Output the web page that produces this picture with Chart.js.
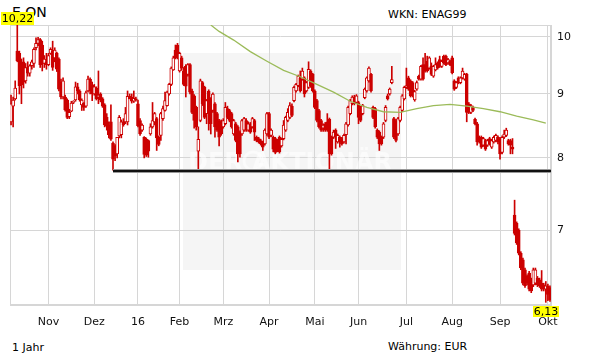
<!DOCTYPE html>
<html><head><meta charset="utf-8">
<script src="https://cdn.jsdelivr.net/npm/chart.js@4.4.0/dist/chart.umd.min.js"></script>
<style>
html,body{margin:0;padding:0;background:#fff;}
#wrap{position:relative;width:611px;height:364px;overflow:hidden;font-family:"DejaVu Sans",sans-serif;color:#000;}
#c{position:absolute;left:0;top:0;z-index:1;}
.t{position:absolute;white-space:nowrap;z-index:0;}
</style></head><body>
<div id="wrap">
<div class="t" style="left:12px;top:5px;font-size:14px;line-height:14px;">E.ON</div>
<div class="t" style="left:388px;top:9px;font-size:11px;line-height:11px;">WKN: ENAG99</div>
<div class="t" style="left:12px;top:342px;font-size:11px;line-height:11px;">1 Jahr</div>
<div class="t" style="left:388px;top:341px;font-size:11px;line-height:11px;">Währung: EUR</div>
<canvas id="c" width="611" height="364"></canvas>
</div>
<script>
// ---- data (one entry per trading day, index 0 = early Oct 2015) ----
const opens = [
8.55,8.80,8.92,9.74,9.70,9.50,9.55,9.22,9.45,9.35,
9.48,9.52,9.80,9.88,9.95,9.85,9.52,9.55,9.50,9.70,
9.75,9.62,9.70,9.60,9.20,8.95,8.95,8.90,8.63,8.72,
8.86,8.90,9.12,9.05,8.82,8.85,8.80,9.05,9.25,9.15,
9.00,9.10,8.95,9.00,8.92,8.82,8.62,8.50,8.55,8.22,
8.18,8.06,8.33,8.35,8.55,8.55,8.55,8.96,8.95,8.88,
8.92,8.84,8.57,8.42,8.31,8.28,8.26,8.36,8.47,8.55,
8.60,8.31,8.34,8.60,8.73,8.81,9.00,9.16,9.41,9.76,
9.85,9.39,9.62,9.39,9.47,9.33,9.50,9.05,8.97,8.78,
8.10,8.57,9.19,9.11,8.68,9.05,8.92,8.73,8.84,8.68,
8.57,8.55,8.47,8.52,8.76,8.73,8.68,8.36,8.52,8.47,
8.39,8.36,8.42,8.57,8.42,8.52,8.47,8.57,8.31,8.29,
8.26,8.23,8.21,8.36,8.68,8.34,8.31,8.29,8.26,8.31,
8.18,8.29,8.42,8.57,8.62,8.80,8.89,9.05,9.14,9.27,
9.25,9.27,9.05,9.11,9.39,9.33,9.05,8.89,8.73,8.57,
8.45,8.52,8.55,8.59,8.31,8.31,8.42,8.24,8.31,8.29,
8.24,8.35,8.50,8.68,8.84,8.95,8.86,8.86,8.78,8.68,
8.94,9.05,9.22,9.33,8.78,8.76,8.42,8.39,8.31,8.31,
8.57,8.97,9.00,9.19,8.60,8.57,8.36,8.57,8.73,8.92,
9.11,9.27,9.22,9.19,8.90,9.08,9.30,9.25,9.50,9.50,
9.56,9.44,9.47,9.30,9.41,9.53,9.59,9.47,9.65,9.65,
9.53,9.56,9.62,9.22,9.11,9.27,9.19,9.27,9.25,9.33,
8.84,8.70,8.78,8.59,8.52,8.31,8.31,8.19,8.26,8.19,
8.29,8.16,8.24,8.26,8.31,8.29,8.08,8.31,8.34,8.26,
8.26,8.16,7.20,7.09,7.00,6.71,6.63,6.51,6.43,6.47,
6.39,6.33,6.35,6.41,6.39,6.35,6.33,6.28,6.32,6.30];
const highs = [
8.98,8.95,9.22,10.22,9.74,9.60,9.62,9.52,9.55,9.50,
9.58,9.80,9.98,9.99,9.97,9.92,9.66,9.70,9.70,9.80,
9.92,9.80,9.72,9.62,9.25,9.27,8.98,8.92,8.75,8.88,
8.89,9.20,9.18,9.07,8.92,8.86,9.05,9.30,9.27,9.20,
9.16,9.12,9.39,9.02,8.94,8.84,8.68,8.55,8.82,8.24,
8.20,8.31,8.65,8.58,8.60,8.78,9.05,9.00,9.00,9.05,
8.95,8.90,8.60,8.52,8.32,8.30,8.27,8.52,8.86,8.70,
8.62,8.33,8.70,8.80,9.03,9.05,9.18,9.46,9.65,9.85,
9.88,9.72,9.65,9.45,9.50,9.52,9.52,9.08,8.99,8.80,
8.47,9.25,9.21,9.13,8.91,9.07,8.94,9.02,8.86,8.70,
8.59,8.58,8.60,8.86,8.80,8.75,8.70,8.59,8.54,8.49,
8.41,8.59,8.62,8.60,8.55,8.54,8.62,8.59,8.33,8.31,
8.28,8.25,8.44,8.70,8.70,8.44,8.33,8.31,8.28,8.33,
8.30,8.57,8.64,8.76,8.86,8.84,9.13,9.18,9.32,9.39,
9.44,9.29,9.21,9.55,9.41,9.35,9.07,8.91,8.75,8.59,
8.52,8.54,8.68,8.61,8.33,8.42,8.44,8.36,8.33,8.31,
8.36,8.54,8.80,8.91,8.97,8.98,8.99,8.88,8.80,8.83,
9.10,9.29,9.46,9.35,8.80,8.78,8.44,8.41,8.33,8.54,
8.81,9.00,9.10,9.47,8.62,8.59,8.62,8.80,8.99,9.13,
9.44,9.30,9.24,9.21,9.06,9.22,9.32,9.49,9.62,9.70,
9.65,9.64,9.53,9.49,9.62,9.55,9.65,9.58,9.67,9.67,
9.61,9.58,9.65,9.24,9.21,9.29,9.29,9.44,9.35,9.35,
8.86,8.83,8.80,8.61,8.54,8.33,8.33,8.31,8.28,8.28,
8.31,8.28,8.33,8.36,8.33,8.31,8.33,8.42,8.45,8.28,
8.28,8.29,7.40,7.11,7.02,6.73,6.65,6.53,6.45,6.49,
6.41,6.53,6.53,6.43,6.41,6.50,6.35,6.37,6.34,6.32];
const lows = [
8.50,8.47,8.90,9.55,9.00,8.84,9.10,9.18,9.30,9.30,
9.42,9.45,9.76,9.84,9.45,9.39,9.45,9.42,9.48,9.68,
9.40,9.55,9.38,9.05,8.92,8.92,8.72,8.60,8.60,8.71,
8.84,8.88,9.00,8.88,8.73,8.73,8.78,9.03,9.00,8.89,
8.98,8.90,8.84,8.87,8.78,8.47,8.42,8.30,8.26,7.82,
7.96,8.00,8.30,8.30,8.48,8.52,8.50,8.92,8.85,8.86,
8.88,8.47,8.34,8.40,8.00,8.02,8.01,8.34,8.45,8.50,
8.11,8.18,8.26,8.57,8.72,8.80,8.98,9.14,9.40,9.60,
9.60,9.37,9.40,9.14,8.95,9.30,9.00,8.68,8.45,8.42,
7.83,8.55,8.81,8.60,8.52,8.42,8.36,8.70,8.31,8.40,
8.18,8.34,8.45,8.50,8.60,8.55,8.45,8.34,8.24,7.94,
8.01,8.34,8.40,8.40,8.40,8.37,8.45,8.26,8.24,8.22,
8.19,8.11,8.19,8.34,8.29,8.32,8.09,8.06,8.09,8.07,
8.16,8.27,8.40,8.55,8.60,8.63,8.87,9.03,9.12,9.03,
9.23,8.95,9.03,9.09,9.11,9.03,8.76,8.55,8.45,8.40,
8.40,8.40,8.40,7.82,8.04,8.29,8.14,8.22,8.16,8.19,
8.22,8.21,8.48,8.66,8.82,8.82,8.84,8.52,8.55,8.66,
8.92,9.03,9.20,9.03,8.60,8.45,8.29,8.11,8.19,8.29,
8.55,8.90,8.98,9.17,8.29,8.24,8.34,8.55,8.71,8.90,
9.09,9.06,8.95,8.95,8.88,9.06,9.23,9.23,9.23,9.37,
9.37,9.42,9.31,9.28,9.39,9.42,9.45,9.45,9.51,9.48,
9.51,9.48,9.34,9.06,9.09,9.17,9.17,9.25,9.23,8.55,
8.68,8.68,8.71,8.50,8.19,8.22,8.14,8.17,8.11,8.17,
8.19,8.14,8.22,8.24,8.21,7.98,8.06,8.29,8.32,8.19,
8.06,8.06,6.94,6.82,6.69,6.51,6.33,6.30,6.33,6.26,
6.24,6.31,6.33,6.31,6.30,6.26,6.26,6.13,6.15,6.14];
const closes = [
8.84,8.90,9.10,9.57,9.14,9.15,9.20,9.45,9.35,9.48,
9.55,9.77,9.88,9.95,9.50,9.52,9.60,9.50,9.66,9.77,
9.45,9.76,9.42,9.08,8.95,9.22,8.74,8.62,8.70,8.85,
8.88,9.12,9.05,8.90,8.90,8.78,9.02,9.25,9.05,9.00,
9.12,8.92,8.98,8.90,8.80,8.50,8.48,8.35,8.28,7.98,
8.03,8.31,8.62,8.55,8.50,8.68,8.96,8.92,8.88,8.93,
8.90,8.49,8.36,8.50,8.05,8.04,8.10,8.47,8.57,8.68,
8.30,8.20,8.68,8.76,8.89,9.03,9.16,9.44,9.62,9.62,
9.62,9.70,9.44,9.16,9.13,9.50,9.03,8.70,8.57,8.47,
8.28,9.22,8.84,8.62,8.89,8.68,8.52,9.00,8.47,8.42,
8.31,8.36,8.57,8.78,8.62,8.57,8.47,8.57,8.26,8.06,
8.06,8.57,8.60,8.42,8.52,8.39,8.60,8.39,8.26,8.24,
8.21,8.16,8.42,8.68,8.31,8.42,8.13,8.08,8.11,8.09,
8.28,8.50,8.62,8.70,8.81,8.65,9.11,9.16,9.30,9.05,
9.39,9.00,9.19,9.42,9.13,9.05,8.78,8.57,8.47,8.42,
8.50,8.42,8.42,8.06,8.06,8.39,8.31,8.34,8.24,8.21,
8.34,8.52,8.78,8.89,8.95,8.84,8.97,8.62,8.57,8.81,
9.08,9.27,9.44,9.05,8.62,8.47,8.31,8.21,8.21,8.52,
8.78,8.92,9.08,9.24,8.31,8.26,8.60,8.78,8.97,9.11,
9.14,9.08,8.97,8.97,9.04,9.19,9.25,9.47,9.25,9.39,
9.39,9.62,9.33,9.47,9.50,9.44,9.47,9.56,9.53,9.50,
9.59,9.50,9.36,9.08,9.19,9.19,9.27,9.39,9.33,8.70,
8.70,8.81,8.73,8.52,8.24,8.24,8.16,8.29,8.13,8.26,
8.21,8.26,8.31,8.34,8.24,8.06,8.31,8.36,8.42,8.21,
8.19,8.13,6.96,6.84,6.71,6.53,6.35,6.32,6.35,6.28,
6.26,6.51,6.51,6.33,6.32,6.28,6.28,6.32,6.22,6.16];

// 200-day moving average, read at selected trading-day indices
const maIdx = [96,100,107,115,123,131,139,147,155,163,171,179,187,195,203,211,219,227,235,243,251,257];
const maVal = [10.22,10.10,9.94,9.73,9.56,9.40,9.29,9.16,9.03,8.88,8.78,8.71,8.70,8.76,8.81,8.83,8.80,8.76,8.71,8.64,8.58,8.53];

// support line
const supportLevel = 7.81;
const supportStartIdx = 49;

// axis ticks
const monthLabels = ['Nov','Dez','16','Feb','Mrz','Apr','Mai','Jun','Jul','Aug','Sep','Okt'];
const monthTickIdx = [18,40,61,81,102,124,146,167,190,212,235,258];
const yTicks = [7,8,9,10];

// ---- build ----
const N = closes.length;
const RED = '#cc0000';
const GRID = '#d6d6d6';
const idx = closes.map((_, i) => i);
const wickData = idx.map(i => ({x: i, y: [lows[i], highs[i]]}));
const bodyData = idx.map(i => ({x: i, y: [opens[i], closes[i]]}));
const bodyFill = idx.map(i => closes[i] >= opens[i] ? '#ffffff' : RED);
const maData = maIdx.map((v, k) => ({x: v, y: maVal[k]}));
const supportData = [{x: supportStartIdx, y: supportLevel}, {x: N - 0.5, y: supportLevel}];
const maxHigh = Math.max(...highs);
const minLow = Math.min(...lows);

const decor = {
  id: 'decor',
  beforeDraw(chart) {
    const {ctx, chartArea: a} = chart;
    ctx.save();
    ctx.fillStyle = '#f5f5f5';
    ctx.fillRect(a.left + 173, a.top + 28, 218, 217);
    ctx.restore();
  },
  beforeDatasetsDraw(chart) {
    const {ctx, chartArea: a} = chart;
    ctx.save();
    ctx.fillStyle = 'rgba(255,255,255,0.55)';
    ctx.font = 'bold 24px "DejaVu Sans"';
    ctx.textBaseline = 'alphabetic';
    ctx.textAlign = 'left';
    ctx.fillText('DER', a.left + 178, a.top + 145);
    ctx.textAlign = 'right';
    ctx.fillText('AKTIONÄR', a.left + 382, a.top + 145);
    ctx.strokeStyle = 'rgba(255,255,255,0.55)';
    ctx.lineWidth = 3;
    ctx.beginPath();
    ctx.arc(a.left + 243, a.top + 136, 9, 0, Math.PI * 2);
    ctx.stroke();
    ctx.strokeStyle = GRID;
    ctx.lineWidth = 1;
    ctx.strokeRect(a.left + 0.5, a.top + 0.5, a.right - a.left - 1, a.bottom - a.top - 1);
    ctx.restore();
  },
  afterDatasetsDraw(chart) {
    const {ctx, chartArea: a, scales: {x}} = chart;
    ctx.save();
    ctx.font = '11px "DejaVu Sans"';
    ctx.textBaseline = 'middle';
    ctx.textAlign = 'center';
    const draw = (val, i, yTop, h) => {
      const txt = val.toFixed(2).replace('.', ',');
      const w = Math.round(ctx.measureText(txt).width + 2);
      const cx = x.getPixelForValue(i);
      const left = Math.max(1, Math.round(cx - w / 2));
      ctx.fillStyle = '#ffff00';
      ctx.fillRect(left, yTop, w, h);
      ctx.fillStyle = '#000';
      ctx.fillText(txt, left + w / 2, yTop + h / 2 + 0.5);
    };
    draw(maxHigh, highs.indexOf(maxHigh), a.top - 13, 13);
    draw(minLow, lows.indexOf(minLow), a.bottom + 1, 11);
    ctx.restore();
  }
};

new Chart(document.getElementById('c'), {
  type: 'bar',
  data: {
    datasets: [
      {type: 'line', data: maData, borderColor: '#9bbb59', borderWidth: 1.3, pointRadius: 0, tension: 0, order: 1},
      {type: 'line', data: supportData, borderColor: '#999999', borderWidth: 4, pointRadius: 0, order: 3},
      {type: 'line', data: supportData, borderColor: '#111111', borderWidth: 2, pointRadius: 0, order: 2},
      {type: 'bar', data: bodyData, backgroundColor: bodyFill, borderColor: RED, borderWidth: 1,
       borderSkipped: false, barThickness: 3, grouped: false, order: 4},
      {type: 'bar', data: wickData, backgroundColor: RED, borderWidth: 0,
       barThickness: 1, grouped: false, order: 5}
    ]
  },
  options: {
    responsive: false,
    animation: false,
    events: [],
    layout: {padding: {left: 10, top: 25, right: 0, bottom: 0}},
    plugins: {legend: {display: false}, tooltip: {enabled: false}},
    scales: {
      x: {
        type: 'linear', min: -0.5, max: N - 0.5, offset: false,
        afterBuildTicks: s => { s.ticks = monthTickIdx.map(v => ({value: v})); },
        afterFit: s => { s.height = 59; },
        ticks: {padding: 11, autoSkip: false, maxRotation: 0, color: '#111',
                font: {family: 'DejaVu Sans', size: 11},
                callback: (v, i) => monthLabels[i]},
        grid: {color: GRID, drawTicks: false, offset: false},
        border: {display: true, color: GRID}
      },
      y: {
        type: 'logarithmic', position: 'right', min: minLow, max: maxHigh,
        afterBuildTicks: s => { s.ticks = yTicks.map(v => ({value: v})); },
        afterFit: s => { s.width = 60; },
        ticks: {padding: 6, color: '#111', font: {family: 'DejaVu Sans', size: 11},
                callback: v => String(v)},
        grid: {color: GRID, drawTicks: false},
        border: {display: true, color: GRID}
      }
    }
  },
  plugins: [decor]
});
</script>
</body></html>
